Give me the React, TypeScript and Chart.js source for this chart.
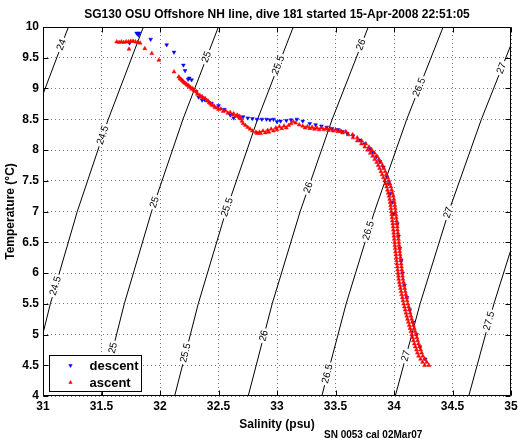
import React, { useEffect, useRef } from "react";
import { Chart, registerables } from "chart.js";

Chart.register(...registerables);

const FONT = '"Liberation Sans", Arial, Helvetica, sans-serif';

const titleText = "SG130 OSU Offshore NH line, dive 181 started 15-Apr-2008 22:51:05";
const xLabel = "Salinity (psu)";
const yLabel = "Temperature (°C)";
const footText = "SN 0053 cal 02Mar07";
const legendLabels = ["descent", "ascent"];

// isopycnal (sigma-t) contours, salinity at given temperatures
const sigmaLevels = [24, 24.5, 25, 25.5, 26, 26.5, 27, 27.5];
const isoTemps = [4, 5.5, 7, 8.5, 10];
const isoSal = [
  [30.238, 30.43, 30.657, 30.919, 31.217],
  [30.867, 31.063, 31.293, 31.558, 31.858],
  [31.496, 31.695, 31.928, 32.196, 32.499],
  [32.125, 32.327, 32.563, 32.834, 33.139],
  [32.754, 32.959, 33.198, 33.472, 33.78],
  [33.383, 33.591, 33.833, 34.109, 34.42],
  [34.011, 34.223, 34.468, 34.747, 35.06],
  [34.639, 34.854, 35.102, 35.384, 35.701],
];

// contour labels: level and temperature where label sits
const labelLevel = [24, 24.5, 24.5, 25, 25, 25, 25.5, 25.5, 25.5, 26, 26, 26, 26.5, 26.5, 26.5, 27, 27, 27, 27.5];
const labelTemp = [9.71, 8.24, 5.79, 9.51, 7.15, 4.78, 9.38, 7.07, 4.7, 9.71, 7.39, 4.98, 9.02, 6.69, 4.36, 9.33, 6.98, 4.65, 5.22];

// ascent: dense lower band (temperature levels, left and right edge salinity)
const ascentBandTemp = [
  4.5, 4.55, 4.6, 4.65, 4.7, 4.75, 4.8, 4.85, 4.9, 4.95, 5.0, 5.05, 5.1, 5.15, 5.2, 5.25, 5.3, 5.35, 5.4, 5.45,
  5.5, 5.55, 5.6, 5.65, 5.7, 5.75, 5.8, 5.85, 5.9, 5.95, 6.0, 6.05, 6.1, 6.15, 6.2, 6.25, 6.3, 6.35, 6.4, 6.45,
  6.5, 6.55, 6.6, 6.65, 6.7, 6.75, 6.8, 6.85, 6.9, 6.95, 7.0, 7.05, 7.1, 7.15, 7.2, 7.25, 7.3, 7.35, 7.4, 7.45,
  7.5, 7.55, 7.6, 7.65, 7.7, 7.75, 7.8, 7.85, 7.9, 7.95, 8.0, 8.05, 8.1, 8.15, 8.2, 8.25, 8.3,
];
const ascentBandSalLo = [
  34.262, 34.244, 34.227, 34.21, 34.2, 34.192, 34.182, 34.174, 34.166, 34.159, 34.152, 34.144, 34.137, 34.13, 34.122, 34.115, 34.109, 34.102, 34.095, 34.089,
  34.082, 34.076, 34.071, 34.065, 34.06, 34.055, 34.05, 34.045, 34.04, 34.037, 34.034, 34.031, 34.028, 34.025, 34.022, 34.019, 34.016, 34.013, 34.01, 34.007,
  34.005, 34.002, 33.999, 33.997, 33.994, 33.992, 33.989, 33.986, 33.983, 33.98, 33.977, 33.974, 33.971, 33.967, 33.963, 33.957, 33.95, 33.944, 33.937, 33.929,
  33.92, 33.909, 33.898, 33.888, 33.877, 33.865, 33.852, 33.835, 33.817, 33.797, 33.774, 33.75, 33.722, 33.687, 33.65, 33.61, 33.552,
];
const ascentBandSalHi = [
  34.298, 34.28, 34.263, 34.246, 34.236, 34.228, 34.218, 34.21, 34.202, 34.195, 34.188, 34.18, 34.173, 34.166, 34.158, 34.151, 34.145, 34.138, 34.131, 34.125,
  34.118, 34.112, 34.107, 34.101, 34.096, 34.091, 34.086, 34.081, 34.076, 34.073, 34.07, 34.067, 34.064, 34.061, 34.058, 34.055, 34.052, 34.049, 34.046, 34.043,
  34.041, 34.038, 34.035, 34.033, 34.03, 34.028, 34.025, 34.022, 34.019, 34.016, 34.013, 34.01, 34.007, 34.003, 33.999, 33.993, 33.986, 33.98, 33.973, 33.965,
  33.956, 33.945, 33.934, 33.924, 33.913, 33.901, 33.888, 33.871, 33.853, 33.833, 33.81, 33.786, 33.758, 33.723, 33.686, 33.646, 33.588,
];

// ascent: upper scattered part
const ascentSal = [
  33.54, 33.5, 33.46, 33.42, 33.38, 33.34, 33.3, 33.26, 33.22, 33.19, 33.16, 33.14, 33.12, 33.1, 33.06, 33.02, 32.99, 32.95, 32.92, 32.88,
  32.85, 32.82, 32.79, 32.77, 32.75, 32.73, 32.71, 32.7, 32.69, 32.68, 32.66, 32.63, 32.6, 32.56, 32.52, 32.49, 32.46, 32.43, 32.41, 32.385,
  32.36, 32.34, 32.31, 32.28, 32.26, 32.24, 32.22, 32.2, 32.18, 32.16, 32.12, 31.99, 31.93, 31.87, 31.735, 31.83, 31.81, 31.79, 31.77, 31.75,
  31.73, 31.71, 31.69, 31.67, 31.65, 31.63,
  33.56, 33.52, 33.48, 33.44, 33.4, 33.36, 33.32, 33.28, 33.24, 33.08, 33.04, 33.0, 32.97, 32.93, 32.9, 32.86, 32.83,
  32.68, 32.65, 32.62, 32.58, 32.54, 32.5, 32.47, 32.44, 32.42, 32.4, 32.37, 32.35, 32.32, 32.29, 32.27, 32.25, 32.23, 32.21, 32.19, 32.17,
];
const ascentTemp = [
  8.31, 8.33, 8.34, 8.35, 8.36, 8.36, 8.37, 8.38, 8.39, 8.41, 8.44, 8.46, 8.43, 8.4, 8.39, 8.38, 8.36, 8.34, 8.32, 8.31,
  8.29, 8.29, 8.31, 8.34, 8.37, 8.4, 8.43, 8.47, 8.51, 8.55, 8.57, 8.59, 8.61, 8.64, 8.67, 8.69, 8.72, 8.76, 8.8, 8.84,
  8.87, 8.89, 8.95, 9.0, 9.02, 9.05, 9.08, 9.11, 9.15, 9.19, 9.27, 9.46, 9.57, 9.65, 9.64, 9.74, 9.75, 9.76, 9.77, 9.77,
  9.76, 9.76, 9.75, 9.76, 9.75, 9.76,
  8.28, 8.3, 8.31, 8.32, 8.33, 8.33, 8.34, 8.35, 8.36, 8.36, 8.35, 8.33, 8.31, 8.29, 8.28, 8.27, 8.27,
  8.52, 8.55, 8.57, 8.6, 8.63, 8.66, 8.69, 8.73, 8.77, 8.8, 8.84, 8.86, 8.91, 8.97, 8.99, 9.03, 9.06, 9.09, 9.13, 9.16,
];

// descent
const descentSal = [
  31.8, 31.82, 31.815, 31.74, 31.92, 32.057, 32.12, 32.2, 32.214, 32.24, 32.27, 32.25, 32.31, 32.33, 32.36, 32.38, 32.44, 32.5, 32.55, 32.6,
  32.63, 32.67, 32.71, 32.75, 32.79, 32.83, 32.87, 32.91, 32.94, 32.97, 33.0, 33.03, 33.08, 33.12, 33.17, 33.22, 33.28, 33.33, 33.38, 33.425,
  33.47, 33.52, 33.56, 33.6, 33.65, 33.71, 33.75, 33.795, 33.82, 33.85, 33.88, 33.91, 33.94, 33.955, 33.97, 33.985, 33.995,
  34.029, 34.039, 34.05, 34.062, 34.074, 34.09, 34.111, 34.135, 34.162, 34.192, 34.222, 34.267,
];
const descentTemp = [
  9.9, 9.9, 9.87, 9.74, 9.8, 9.71, 9.59, 9.38, 9.29, 9.15, 9.14, 9.17, 8.95, 8.86, 8.81, 8.82, 8.76, 8.72, 8.66, 8.57,
  8.52, 8.55, 8.54, 8.52, 8.51, 8.5, 8.5, 8.5, 8.49, 8.5, 8.46, 8.47, 8.48, 8.49, 8.5, 8.47, 8.43, 8.41, 8.39, 8.37,
  8.35, 8.33, 8.3, 8.27, 8.23, 8.16, 8.1, 8.02, 7.96, 7.89, 7.81, 7.72, 7.56, 7.45, 7.29, 7.15, 6.96,
  6.8, 6.6, 6.4, 6.2, 6.0, 5.8, 5.6, 5.4, 5.2, 5.0, 4.8, 4.6,
];

const RED = "#ff0000";
const BLUE = "#0000ff";

function labelGeoms(chart: any) {
  const xs = chart.scales.x;
  const ys = chart.scales.y;
  const ctx = chart.ctx;
  ctx.save();
  ctx.font = `10px ${FONT}`;
  const out: any[] = [];
  for (let i = 0; i < labelLevel.length; i++) {
    const k = sigmaLevels.indexOf(labelLevel[i]);
    const t = labelTemp[i];
    let j = 0;
    while (j < isoTemps.length - 2 && t > isoTemps[j + 1]) j++;
    const f = (t - isoTemps[j]) / (isoTemps[j + 1] - isoTemps[j]);
    const s = isoSal[k][j] + f * (isoSal[k][j + 1] - isoSal[k][j]);
    const px = xs.getPixelForValue(s);
    const py = ys.getPixelForValue(t);
    const x1 = xs.getPixelForValue(isoSal[k][j]);
    const y1 = ys.getPixelForValue(isoTemps[j]);
    const x2 = xs.getPixelForValue(isoSal[k][j + 1]);
    const y2 = ys.getPixelForValue(isoTemps[j + 1]);
    const ang = Math.atan2(y2 - y1, x2 - x1);
    const text = String(labelLevel[i]);
    const w = ctx.measureText(text).width;
    out.push({ level: labelLevel[i], px, py, ang, text, w });
  }
  ctx.restore();
  return out;
}

function triangle(ctx: CanvasRenderingContext2D, x: number, y: number, r: number, down: boolean) {
  const d = down ? -1 : 1;
  ctx.beginPath();
  ctx.moveTo(x, y - d * r);
  ctx.lineTo(x + r * 0.866, y + d * r * 0.5);
  ctx.lineTo(x - r * 0.866, y + d * r * 0.5);
  ctx.closePath();
  ctx.fill();
  ctx.stroke();
}

const decor = {
  id: "decor",
  beforeDatasetDraw(chart: any, args: any) {
    const ds = chart.data.datasets[args.index];
    if (ds.sigma === undefined) return;
    const ctx = chart.ctx;
    ctx.save();
    ctx.beginPath();
    ctx.rect(0, 0, chart.width, chart.height);
    for (const g of labelGeoms(chart)) {
      if (g.level !== ds.sigma) continue;
      const hl = g.w / 2 + 2;
      const hh = 5;
      const c = Math.cos(g.ang);
      const s = Math.sin(g.ang);
      const pts = [
        [-hl, -hh],
        [hl, -hh],
        [hl, hh],
        [-hl, hh],
      ].map(([a, b]) => [g.px + a * c - b * s, g.py + a * s + b * c]);
      ctx.moveTo(pts[0][0], pts[0][1]);
      for (let q = 1; q < 4; q++) ctx.lineTo(pts[q][0], pts[q][1]);
      ctx.closePath();
    }
    ctx.clip("evenodd");
  },
  afterDatasetDraw(chart: any, args: any) {
    const ds = chart.data.datasets[args.index];
    if (ds.sigma === undefined) return;
    chart.ctx.restore();
  },
  afterDatasetsDraw(chart: any) {
    const ctx = chart.ctx;
    const a = chart.chartArea;
    // contour labels
    ctx.save();
    ctx.font = `10px ${FONT}`;
    ctx.fillStyle = "#000";
    ctx.textAlign = "center";
    ctx.textBaseline = "middle";
    for (const g of labelGeoms(chart)) {
      ctx.save();
      ctx.translate(g.px, g.py);
      ctx.rotate(g.ang);
      ctx.fillText(g.text, 0, 0);
      ctx.restore();
    }
    ctx.restore();
    // box and inward ticks
    ctx.save();
    ctx.strokeStyle = "#000";
    ctx.lineWidth = 1;
    const L = Math.round(a.left) + 0.5;
    const R = Math.round(a.right) - 0.5;
    const T = Math.round(a.top) + 0.5;
    const B = Math.round(a.bottom) - 0.5;
    ctx.beginPath();
    ctx.rect(L, T, R - L, B - T);
    const tl = 5;
    for (const t of chart.scales.x.ticks) {
      const x = Math.round(chart.scales.x.getPixelForValue(t.value)) + 0.5;
      ctx.moveTo(x, B);
      ctx.lineTo(x, B - tl);
      ctx.moveTo(x, T);
      ctx.lineTo(x, T + tl);
    }
    for (const t of chart.scales.y.ticks) {
      const y = Math.round(chart.scales.y.getPixelForValue(t.value)) + 0.5;
      ctx.moveTo(L, y);
      ctx.lineTo(L + tl, y);
      ctx.moveTo(R, y);
      ctx.lineTo(R - tl, y);
    }
    ctx.stroke();
    ctx.restore();
  },
  afterDraw(chart: any) {
    const ctx = chart.ctx;
    const a = chart.chartArea;
    const cx = (a.left + a.right) / 2;
    ctx.save();
    ctx.fillStyle = "#000";
    ctx.font = `bold 12px ${FONT}`;
    ctx.textAlign = "center";
    ctx.textBaseline = "alphabetic";
    ctx.fillText(titleText, cx, 18);
    ctx.fillText(xLabel, cx, 427.5);
    ctx.save();
    ctx.translate(14, (a.top + a.bottom) / 2);
    ctx.rotate(-Math.PI / 2);
    ctx.fillText(yLabel, 0, 0);
    ctx.restore();
    ctx.font = `bold 10px ${FONT}`;
    ctx.textAlign = "left";
    ctx.fillText(footText, 324, 438);
    // legend
    const x0 = Math.round(a.left) + 6.5;
    const y0 = Math.round(a.bottom) - 40.5;
    const w = 92;
    const h = 36;
    ctx.fillStyle = "#fff";
    ctx.fillRect(x0, y0, w, h);
    ctx.strokeStyle = "#000";
    ctx.lineWidth = 1;
    ctx.strokeRect(x0, y0, w, h);
    ctx.lineWidth = 0.5;
    ctx.fillStyle = BLUE;
    ctx.strokeStyle = BLUE;
    triangle(ctx, x0 + 21, y0 + 10, 2, true);
    ctx.fillStyle = RED;
    ctx.strokeStyle = RED;
    triangle(ctx, x0 + 21, y0 + 27, 2, false);
    ctx.fillStyle = "#000";
    ctx.font = `bold 13px ${FONT}`;
    ctx.textBaseline = "middle";
    ctx.fillText(legendLabels[0], x0 + 40, y0 + 10.5);
    ctx.fillText(legendLabels[1], x0 + 40, y0 + 27.5);
    ctx.restore();
  },
};

export default function App() {
  const ref = useRef<HTMLCanvasElement>(null);
  useEffect(() => {
    const ascentData: { x: number; y: number }[] = [];
    ascentBandTemp.forEach((t, i) => {
      ascentData.push({ x: ascentBandSalLo[i], y: t });
      ascentData.push({ x: ascentBandSalHi[i], y: t });
    });
    ascentSal.forEach((s, i) => ascentData.push({ x: s, y: ascentTemp[i] }));
    const descentData = descentSal.map((s, i) => ({ x: s, y: descentTemp[i] }));

    const contourSets = sigmaLevels.map((lv, k) => ({
      label: "sigma " + lv,
      sigma: lv,
      type: "line",
      data: isoTemps.map((t, j) => ({ x: isoSal[k][j], y: t })),
      borderColor: "#000",
      borderWidth: 1,
      pointRadius: 0,
      fill: false,
      tension: 0,
    }));

    const tickFont = { family: FONT, size: 12, weight: "bold" as const };
    const chart = new Chart(ref.current as HTMLCanvasElement, {
      type: "scatter",
      data: {
        datasets: [
          {
            label: legendLabels[1],
            data: ascentData,
            pointStyle: "triangle",
            pointRadius: 2.3,
            backgroundColor: RED,
            borderColor: RED,
            borderWidth: 0.5,
          },
          {
            label: legendLabels[0],
            data: descentData,
            pointStyle: "triangle",
            rotation: 180,
            pointRadius: 2.2,
            backgroundColor: BLUE,
            borderColor: BLUE,
            borderWidth: 0.5,
          },
          ...(contourSets as any[]),
        ],
      },
      options: {
        animation: false,
        responsive: false,
        devicePixelRatio: 1,
        layout: { padding: { top: 27, right: 11, left: 0, bottom: 0 } },
        plugins: {
          legend: { display: false },
          tooltip: { enabled: false },
          title: { display: false },
        },
        scales: {
          x: {
            type: "linear",
            min: 31,
            max: 35,
            ticks: {
              stepSize: 0.5,
              autoSkip: false,
              maxRotation: 0,
              padding: 3,
              color: "#000",
              font: tickFont,
              callback: (v: any) => String(v),
            },
            grid: { color: "rgba(0,0,0,0.55)", lineWidth: 1, drawTicks: false },
            border: { display: false, dash: [1, 3] },
            afterFit: (s: any) => {
              s.height = 46;
            },
          },
          y: {
            type: "linear",
            min: 4,
            max: 10,
            ticks: {
              stepSize: 0.5,
              autoSkip: false,
              padding: 4,
              color: "#000",
              font: tickFont,
              callback: (v: any) => String(v),
            },
            grid: { color: "rgba(0,0,0,0.55)", lineWidth: 1, drawTicks: false },
            border: { display: false, dash: [1, 3] },
            afterFit: (s: any) => {
              s.width = 43;
            },
          },
        },
      } as any,
      plugins: [decor],
    });
    return () => chart.destroy();
  }, []);
  return (
    <div style={{ position: "fixed", left: 0, top: 0, width: 522, height: 442, background: "#fff" }}>
      <canvas ref={ref} width={522} height={442} style={{ display: "block", width: 522, height: 442 }} />
    </div>
  );
}
